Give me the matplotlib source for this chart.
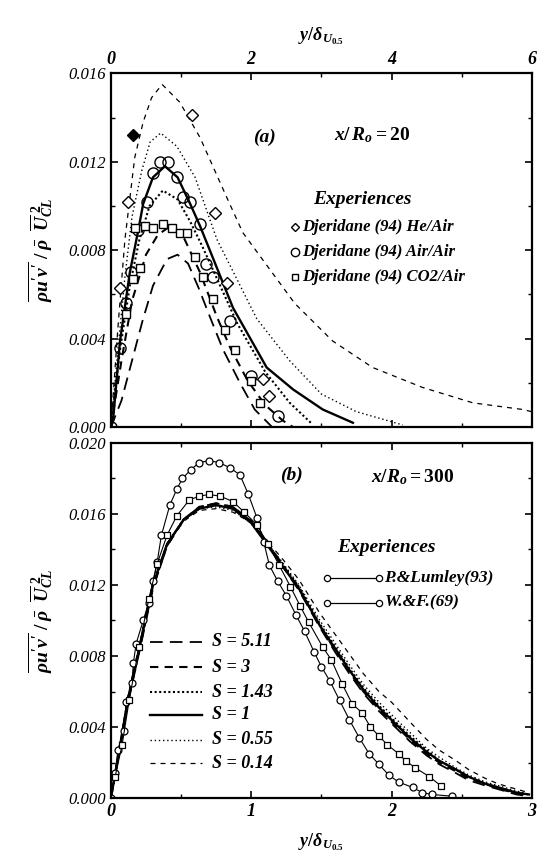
import matplotlib.pyplot as plt
from matplotlib.ticker import MultipleLocator

plt.rcParams['font.family'] = ['Liberation Serif', 'DejaVu Serif']
plt.rcParams['mathtext.fontset'] = 'custom'
plt.rcParams['mathtext.it'] = 'Liberation Serif:italic:bold'
plt.rcParams['mathtext.rm'] = 'Liberation Serif:bold'
plt.rcParams['mathtext.bf'] = 'Liberation Serif:bold'

# ---- panel (a) x/R0 = 20 : model curves ----
a_s514_x = [0, 0.15, 0.3, 0.45, 0.6, 0.8, 0.95, 1.1, 1.25, 1.41, 1.6, 1.84, 2.05, 2.3]
a_s514_y = [0, 0.0012, 0.0030, 0.0048, 0.0064, 0.0076, 0.0078, 0.0074, 0.0063, 0.0050, 0.0035, 0.0020, 0.0008, 0.0]
a_s3_x = [0, 0.15, 0.3, 0.5, 0.67, 0.85, 1.05, 1.27, 1.51, 1.7, 1.95, 2.2, 2.45, 2.6]
a_s3_y = [0, 0.0030, 0.0057, 0.0078, 0.0087, 0.0091, 0.0085, 0.0070, 0.0050, 0.0036, 0.0021, 0.0010, 0.0003, 0.0]
a_s143_x = [0, 0.13, 0.27, 0.4, 0.55, 0.74, 0.95, 1.13, 1.3, 1.5, 1.8, 2.2, 2.55, 2.85]
a_s143_y = [0, 0.0035, 0.0064, 0.0084, 0.0100, 0.0107, 0.0103, 0.0093, 0.0082, 0.0068, 0.0047, 0.0025, 0.0011, 0.0002]
a_s1_x = [0, 0.03, 0.13, 0.27, 0.39, 0.46, 0.6, 0.77, 0.95, 1.13, 1.27, 1.41, 1.74, 2.22, 2.6, 3.02, 3.45]
a_s1_y = [0, 0.0003, 0.0039, 0.0070, 0.0089, 0.0101, 0.0113, 0.0118, 0.0113, 0.0101, 0.0091, 0.0080, 0.0054, 0.0027, 0.0017, 0.0008, 0.0002]
a_s055_x = [0, 0.1, 0.2, 0.3, 0.44, 0.56, 0.71, 0.94, 1.2, 1.51, 2.08, 2.55, 3.0, 3.5, 4.16]
a_s055_y = [0, 0.0035, 0.0068, 0.0095, 0.0116, 0.0129, 0.0133, 0.0127, 0.0113, 0.0085, 0.0049, 0.0030, 0.0015, 0.0007, 0.0001]
a_s014_x = [0, 0.1, 0.2, 0.34, 0.46, 0.58, 0.73, 0.98, 1.27, 1.65, 1.88, 2.62, 3.16, 3.73, 4.44, 5.16, 5.87, 6.0]
a_s014_y = [0, 0.0045, 0.0085, 0.0122, 0.0138, 0.0149, 0.0155, 0.0147, 0.0131, 0.0104, 0.0088, 0.0056, 0.0039, 0.0027, 0.0018, 0.0011, 0.0008, 0.0007]

# ---- panel (a) experiments (Djeridane 94) ----
he_x = [0.13, 0.24, 1.15, 1.48, 1.65, 2.17, 2.26]
he_y = [0.0063, 0.0102, 0.0141, 0.0097, 0.0065, 0.0022, 0.0014]
he_fill_x = [0.32]
he_fill_y = [0.0132]
air_x = [0.0, 0.13, 0.22, 0.29, 0.39, 0.51, 0.60, 0.70, 0.81, 0.94, 1.03, 1.13, 1.27, 1.36, 1.45, 1.70, 2.0, 2.38]
air_y = [0.0, 0.0036, 0.0056, 0.0070, 0.0089, 0.0102, 0.0115, 0.0120, 0.0120, 0.0113, 0.0104, 0.0102, 0.0092, 0.0074, 0.0068, 0.0048, 0.0023, 0.0005]
co2_x = [0.22, 0.31, 0.34, 0.41, 0.48, 0.60, 0.74, 0.87, 0.98, 1.08, 1.20, 1.31, 1.45, 1.62, 1.77, 2.0, 2.12]
co2_y = [0.0051, 0.0067, 0.0090, 0.0072, 0.0091, 0.0090, 0.0092, 0.0090, 0.0088, 0.0088, 0.0077, 0.0068, 0.0058, 0.0044, 0.0035, 0.0021, 0.0011]

# ---- panel (b) x/R0 = 300 : model curves on shared grid ----
b_x = [0, 0.06, 0.12, 0.21, 0.30, 0.40, 0.52, 0.63, 0.75, 0.87, 1.0, 1.11, 1.22, 1.34, 1.49, 1.6, 1.7,
       1.8, 1.91, 2.0, 2.13, 2.25, 2.34, 2.46, 2.55, 2.67, 2.76, 2.89, 2.98]
b_s514 = [0, 0.0026, 0.0053, 0.0085, 0.0118, 0.0142, 0.0157, 0.0164, 0.0166, 0.0164, 0.0156, 0.0144, 0.0131, 0.0117,
          0.0096, 0.0082, 0.0070, 0.0059, 0.0049, 0.0042, 0.0032, 0.0024, 0.0019, 0.0014, 0.0010, 0.0007, 0.0005, 0.0002, 0.0001]
b_s3 = [0, 0.0026, 0.0054, 0.0086, 0.0119, 0.0142, 0.0157, 0.0164, 0.0166, 0.0164, 0.0156, 0.0144, 0.0132, 0.0118,
        0.0097, 0.0083, 0.0071, 0.0060, 0.0050, 0.0043, 0.0033, 0.0025, 0.0020, 0.0015, 0.0011, 0.0008, 0.0005, 0.0003, 0.0001]
b_s143 = [0, 0.0027, 0.0055, 0.0087, 0.0120, 0.0143, 0.0157, 0.0163, 0.0165, 0.0163, 0.0155, 0.0144, 0.0132, 0.0119,
          0.0098, 0.0085, 0.0073, 0.0062, 0.0052, 0.0045, 0.0035, 0.0027, 0.0021, 0.0016, 0.0012, 0.0008, 0.0006, 0.0003, 0.0002]
b_s1 = [0, 0.0027, 0.0055, 0.0087, 0.0120, 0.0143, 0.0157, 0.0163, 0.0165, 0.0163, 0.0155, 0.0143, 0.0131, 0.0118,
        0.0097, 0.0084, 0.0072, 0.0061, 0.0051, 0.0044, 0.0034, 0.0026, 0.0021, 0.0016, 0.0012, 0.0008, 0.0006, 0.0003, 0.0002]
b_s055 = [0, 0.0027, 0.0056, 0.0088, 0.0121, 0.0143, 0.0157, 0.0163, 0.0164, 0.0162, 0.0155, 0.0144, 0.0133, 0.0120,
          0.0100, 0.0087, 0.0075, 0.0064, 0.0054, 0.0047, 0.0037, 0.0028, 0.0023, 0.0017, 0.0013, 0.0009, 0.0007, 0.0004, 0.0002]
b_s014 = [0, 0.0028, 0.0057, 0.0089, 0.0121, 0.0143, 0.0156, 0.0162, 0.0163, 0.0161, 0.0155, 0.0145, 0.0135, 0.0123,
          0.0104, 0.0092, 0.0081, 0.0070, 0.0060, 0.0054, 0.0043, 0.0033, 0.0027, 0.0021, 0.0016, 0.0011, 0.0008, 0.0005, 0.0003]

# ---- panel (b) experiments ----
pl_x = [0, 0.03, 0.05, 0.09, 0.11, 0.15, 0.16, 0.18, 0.23, 0.27, 0.30, 0.33, 0.36, 0.42, 0.47, 0.51, 0.57, 0.63,
        0.70, 0.77, 0.85, 0.92, 0.98, 1.04, 1.09, 1.13, 1.19, 1.25, 1.32, 1.38, 1.45, 1.50, 1.56, 1.63, 1.70, 1.77,
        1.84, 1.91, 1.98, 2.05, 2.15, 2.22, 2.29, 2.43]
pl_y = [0, 0.0014, 0.0027, 0.0038, 0.0054, 0.0065, 0.0076, 0.0087, 0.0100, 0.0110, 0.0122, 0.0133, 0.0148, 0.0165,
        0.0174, 0.0180, 0.0185, 0.0189, 0.0190, 0.0189, 0.0186, 0.0182, 0.0171, 0.0158, 0.0144, 0.0131, 0.0122, 0.0114,
        0.0103, 0.0094, 0.0082, 0.0074, 0.0066, 0.0055, 0.0044, 0.0034, 0.0025, 0.0019, 0.0013, 0.0009, 0.0006, 0.0003,
        0.0002, 0.0001]
wf_x = [0.03, 0.08, 0.13, 0.20, 0.27, 0.33, 0.40, 0.47, 0.56, 0.63, 0.70, 0.78, 0.87, 0.95, 1.04, 1.12, 1.20, 1.28,
        1.35, 1.41, 1.51, 1.57, 1.65, 1.72, 1.79, 1.85, 1.91, 1.97, 2.05, 2.10, 2.17, 2.27, 2.35]
wf_y = [0.0012, 0.0030, 0.0055, 0.0085, 0.0112, 0.0132, 0.0148, 0.0159, 0.0168, 0.0170, 0.0171, 0.0170, 0.0167,
        0.0161, 0.0154, 0.0143, 0.0131, 0.0119, 0.0108, 0.0099, 0.0085, 0.0078, 0.0064, 0.0053, 0.0048, 0.0040,
        0.0035, 0.0030, 0.0025, 0.0021, 0.0017, 0.0012, 0.0007]

s_labels = ['S = 5.11', 'S = 3', 'S = 1.43', 'S = 1', 'S = 0.55', 'S = 0.14']
# line styles for the six S values
s_styles = [dict(ls=(0, (7, 4)), lw=1.3), dict(ls=(0, (4, 3)), lw=1.5), dict(ls=(0, (1, 1.2)), lw=1.5),
            dict(ls='-', lw=1.7), dict(ls=(0, (1, 2)), lw=1.0), dict(ls=(0, (4, 4)), lw=0.9)]

fig = plt.figure(figsize=(5.41, 8.63), dpi=100)
axa = fig.add_axes([0.205, 0.505, 0.778, 0.410])
axb = fig.add_axes([0.205, 0.0753, 0.778, 0.4114])

tickfont = dict(family='Liberation Serif', style='italic', size=12)
boldit = dict(family='Liberation Serif', style='italic', weight='bold')
ylab = r"$\overline{\rho u\mathrm{'}v\mathrm{'}}\;/\;\bar{\rho}\;\;\overline{U}_{CL}^{\ 2}$"

for ax in (axa, axb):
    for sp in ax.spines.values():
        sp.set_linewidth(1.6)
    ax.tick_params(direction='in', top=True, right=True, length=5, width=1.2)
    ax.tick_params(which='minor', direction='in', top=True, right=True, length=3, width=1)
    ax.yaxis.set_major_locator(MultipleLocator(0.004))
    ax.yaxis.set_minor_locator(MultipleLocator(0.002))
    ax.set_ylabel(ylab, fontsize=14, labelpad=10)

# ---- panel (a) ----
a_curves = [(a_s514_x, a_s514_y), (a_s3_x, a_s3_y), (a_s143_x, a_s143_y),
            (a_s1_x, a_s1_y), (a_s055_x, a_s055_y), (a_s014_x, a_s014_y)]
for (cx, cy), st in zip(a_curves, s_styles):
    axa.plot(cx, cy, color='black', **st)
axa.plot(he_x, he_y, ls='none', marker='D', ms=6, mfc='white', mec='black', mew=1)
axa.plot(he_fill_x, he_fill_y, ls='none', marker='D', ms=6, mfc='black', mec='black')
axa.plot(air_x, air_y, ls='none', marker='o', ms=8, mfc='none', mec='black', mew=1)
axa.plot(co2_x, co2_y, ls='none', marker='s', ms=6, mfc='white', mec='black', mew=1)

axa.set_xlim(0, 6)
axa.set_ylim(0, 0.016)
axa.xaxis.set_major_locator(MultipleLocator(2))
axa.xaxis.set_minor_locator(MultipleLocator(1))
axa.tick_params(labelbottom=False, labeltop=True)
axa.set_xticks([0, 2, 4, 6], ['0', '2', '4', '6'], **boldit, size=13)
axa.set_yticks([0, 0.004, 0.008, 0.012, 0.016], ['0.000', '0.004', '0.008', '0.012', '0.016'], **tickfont)
axa.xaxis.set_label_position('top')
axa.set_xlabel(r'$y/\delta_{U_{0.5}}$', fontsize=13, labelpad=8)

axa.text(2.19, 0.0131, '(a)', fontsize=14, ha='center', va='center', **boldit)
axa.text(3.73, 0.0132, r'$x/\,R_o = 20$', fontsize=14, ha='center', va='center')
axa.text(3.59, 0.0103, 'Experiences', fontsize=14, ha='center', va='center', **boldit)
a_leg = [('D', 4, 'Djeridane (94) He/Air'), ('o', 6, 'Djeridane (94) Air/Air'), ('s', 4, 'Djeridane (94) CO2/Air')]
for (mk, ms, lab), yy in zip(a_leg, [0.00906, 0.00793, 0.0068]):
    axa.plot([2.62], [yy], ls='none', marker=mk, ms=ms, mfc='white', mec='black', mew=1)
    axa.text(2.72, yy, lab, fontsize=12, va='center', ha='left', **boldit)

# ---- panel (b) ----
b_curves = [b_s514, b_s3, b_s143, b_s1, b_s055, b_s014]
for cy, st, lab in zip(b_curves, s_styles, s_labels):
    axb.plot(b_x, cy, color='black', **st)
axb.plot(pl_x, pl_y, color='black', lw=0.8, marker='o', ms=5, mfc='white', mec='black', mew=0.9)
axb.plot(wf_x, wf_y, color='black', lw=0.8, marker='s', ms=4.5, mfc='white', mec='black', mew=0.9)

axb.set_xlim(0, 3)
axb.set_ylim(0, 0.020)
axb.xaxis.set_major_locator(MultipleLocator(1))
axb.xaxis.set_minor_locator(MultipleLocator(0.5))
axb.set_xticks([0, 1, 2, 3], ['0', '1', '2', '3'], **boldit, size=13)
axb.set_yticks([0, 0.004, 0.008, 0.012, 0.016, 0.020],
               ['0.000', '0.004', '0.008', '0.012', '0.016', '0.020'], **tickfont)
axb.set_xlabel(r'$y/\delta_{U_{0.5}}$', fontsize=13, labelpad=8)

axb.text(1.29, 0.0182, '(b)', fontsize=14, ha='center', va='center', **boldit)
axb.text(2.15, 0.0181, r'$x/R_o = 300$', fontsize=14, ha='center', va='center')
axb.text(1.96, 0.0141, 'Experiences', fontsize=14, ha='center', va='center', **boldit)
for (mk, lab), yy in zip([('o', 'P.&Lumley(93)'), ('s', 'W.&F.(69)')], [0.0124, 0.0110]):
    axb.plot([1.54, 1.91], [yy, yy], color='black', lw=0.9, marker='o', ms=4.5, mfc='white', mec='black', mew=0.9)
    axb.text(1.95, yy, lab, fontsize=12.5, va='center', ha='left', **boldit)

for st, lab, yy in zip(s_styles, s_labels, [0.00879, 0.00738, 0.00597, 0.00468, 0.00327, 0.00197]):
    axb.plot([0.28, 0.65], [yy, yy], color='black', **st)
    axb.text(0.72, yy, lab, fontsize=13, va='center', ha='left', **boldit)

fig.savefig('out.png', dpi=100)
